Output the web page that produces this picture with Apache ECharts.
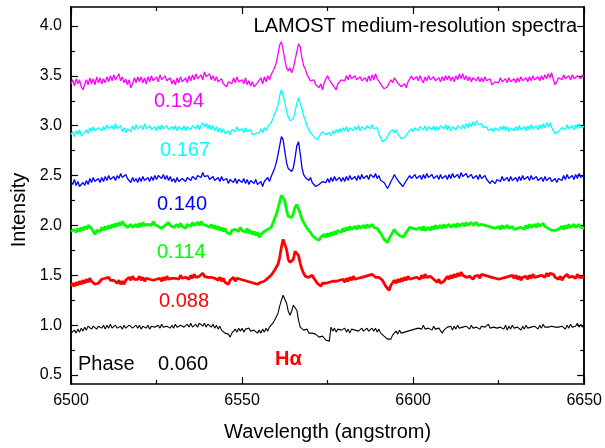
<!DOCTYPE html>
<html>
<head>
<meta charset="utf-8">
<script src="https://cdn.jsdelivr.net/npm/echarts@6/dist/echarts.min.js"></script>
<style>
  html, body { margin: 0; padding: 0; background: #fff; }
  #chart { width: 605px; height: 448px; }
</style>
</head>
<body>
<div id="chart"></div>
<script>
// wavelength grid of the spectra (angstrom)
const waveStart = 6500;
const waveStep = 0.5;

// normalised intensity + offset, one row = 10 angstrom
const phase194 = [
  3.42,3.46,3.40,3.47,3.42,3.46,3.39,3.36,3.41,3.46,3.41,3.48,3.42,3.47,3.41,3.49,3.43,3.48,3.42,3.47,
  3.43,3.49,3.44,3.50,3.45,3.51,3.46,3.44,3.52,3.45,3.49,3.43,3.47,3.41,3.46,3.38,3.42,3.48,3.43,3.49,
  3.44,3.49,3.43,3.48,3.42,3.49,3.44,3.50,3.45,3.43,3.49,3.44,3.51,3.46,3.44,3.50,3.45,3.43,3.48,3.42,
  3.46,3.41,3.48,3.43,3.49,3.44,3.42,3.48,3.43,3.50,3.45,3.51,3.46,3.52,3.47,3.45,3.51,3.46,3.54,3.49,
  3.47,3.52,3.46,3.50,3.45,3.49,3.44,3.43,3.47,3.42,3.41,3.39,3.44,3.46,3.42,3.48,3.43,3.49,3.44,3.42,
  3.46,3.42,3.48,3.41,3.45,3.40,3.44,3.39,3.38,3.43,3.45,3.48,3.42,3.49,3.44,3.50,3.46,3.51,3.53,3.58,
  3.63,3.72,3.81,3.84,3.76,3.66,3.58,3.55,3.58,3.53,3.58,3.66,3.74,3.82,3.79,3.68,3.60,3.57,3.51,3.50,
  3.45,3.43,3.46,3.41,3.40,3.38,3.42,3.36,3.43,3.47,3.50,3.46,3.45,3.41,3.39,3.36,3.42,3.44,3.46,3.48,
  3.45,3.50,3.46,3.51,3.47,3.45,3.50,3.46,3.44,3.49,3.45,3.43,3.48,3.44,3.50,3.45,3.51,3.46,3.52,3.47,
  3.47,3.42,3.41,3.37,3.36,3.39,3.43,3.46,3.43,3.48,3.46,3.43,3.42,3.39,3.37,3.42,3.38,3.44,3.46,3.50,
  3.46,3.44,3.49,3.45,3.50,3.46,3.43,3.49,3.45,3.50,3.46,3.44,3.49,3.45,3.43,3.48,3.44,3.49,3.45,3.50,
  3.46,3.50,3.45,3.49,3.44,3.50,3.46,3.52,3.47,3.52,3.46,3.50,3.45,3.49,3.44,3.48,3.50,3.45,3.49,3.44,
  3.48,3.44,3.49,3.45,3.43,3.47,3.41,3.40,3.44,3.46,3.43,3.48,3.44,3.42,3.47,3.43,3.48,3.44,3.42,3.47,
  3.43,3.48,3.44,3.49,3.45,3.43,3.48,3.44,3.49,3.45,3.50,3.46,3.44,3.49,3.45,3.50,3.46,3.51,3.47,3.52,
  3.48,3.53,3.46,3.41,3.44,3.48,3.50,3.46,3.51,3.47,3.45,3.50,3.46,3.51,3.47,3.45,3.50,3.52,3.47,3.51,
  3.49
];

const phase167 = [
  2.91,2.94,2.89,2.95,2.91,2.96,2.90,2.88,2.93,2.96,2.92,2.98,2.94,2.99,2.95,2.93,2.98,3.00,2.95,2.99,
  2.96,3.01,2.97,2.95,3.00,2.96,3.02,2.97,2.95,3.00,2.94,2.98,2.93,2.97,2.99,2.94,3.00,2.96,3.01,2.97,
  2.95,3.00,2.96,3.02,2.97,2.95,3.00,2.96,2.94,2.99,2.95,3.00,2.96,3.01,2.97,2.95,3.00,2.96,2.94,2.99,
  2.96,3.00,2.95,2.99,3.01,2.96,3.00,2.95,2.99,3.01,2.96,3.00,3.02,2.97,3.01,2.96,3.00,3.03,2.99,3.02,
  2.97,3.01,2.96,3.00,2.95,2.99,2.94,2.98,2.93,2.97,2.92,2.90,2.95,2.91,2.96,2.98,2.94,2.99,2.95,2.93,
  2.97,2.93,2.98,2.94,2.92,2.96,2.91,2.89,2.92,2.94,2.93,2.97,2.93,2.98,2.95,2.99,3.00,3.03,3.07,3.12,
  3.15,3.21,3.30,3.36,3.35,3.24,3.14,3.09,3.05,3.03,3.07,3.14,3.22,3.28,3.26,3.17,3.10,3.05,3.00,2.96,
  2.93,2.92,2.89,2.88,2.86,2.89,2.90,2.94,2.93,2.91,2.89,2.93,2.90,2.95,2.92,2.96,2.93,2.97,2.94,2.98,
  2.95,2.99,2.94,2.98,3.00,2.95,2.99,2.96,3.00,2.95,2.99,3.01,2.96,3.00,3.02,2.97,3.01,2.97,2.95,2.98,
  2.92,2.88,2.84,2.82,2.86,2.89,2.93,2.95,2.96,2.93,2.96,2.92,2.90,2.87,2.85,2.88,2.90,2.93,2.95,2.97,
  2.94,2.98,3.00,2.95,2.99,3.01,2.96,3.00,2.95,2.99,3.01,2.96,3.00,2.95,2.99,2.96,3.00,3.02,2.97,3.01,
  2.96,3.00,2.95,2.99,3.01,2.96,3.00,3.02,2.97,3.01,2.97,3.02,2.98,3.03,2.99,3.04,3.00,3.05,3.01,2.99,
  3.02,2.98,2.97,2.99,2.95,2.93,2.97,2.94,2.98,3.00,2.95,2.99,2.96,3.00,2.95,2.99,2.94,2.98,3.00,2.95,
  2.99,2.95,3.00,2.96,2.94,2.99,2.95,3.00,2.96,3.01,2.97,2.95,3.00,2.96,3.01,2.97,3.02,2.98,3.03,2.99,
  3.03,2.98,2.95,2.92,2.90,2.94,2.95,2.98,3.00,2.96,3.01,2.97,2.95,3.00,2.96,3.01,2.97,3.02,2.98,2.99,
  2.99
];

const phase140 = [
  2.44,2.41,2.46,2.40,2.44,2.39,2.38,2.43,2.40,2.45,2.41,2.47,2.43,2.48,2.44,2.42,2.47,2.43,2.48,2.44,
  2.49,2.45,2.50,2.46,2.44,2.49,2.45,2.50,2.47,2.52,2.48,2.46,2.51,2.47,2.45,2.43,2.48,2.44,2.47,2.43,
  2.48,2.44,2.49,2.45,2.43,2.48,2.44,2.49,2.45,2.50,2.46,2.50,2.52,2.47,2.51,2.46,2.50,2.45,2.49,2.44,
  2.47,2.43,2.48,2.44,2.42,2.47,2.49,2.44,2.48,2.50,2.45,2.49,2.51,2.46,2.50,2.52,2.48,2.53,2.49,2.47,
  2.50,2.46,2.44,2.49,2.45,2.43,2.48,2.44,2.49,2.45,2.43,2.47,2.42,2.46,2.48,2.43,2.47,2.42,2.46,2.48,
  2.43,2.47,2.42,2.46,2.41,2.45,2.47,2.42,2.46,2.41,2.40,2.44,2.39,2.44,2.46,2.48,2.44,2.49,2.51,2.57,
  2.63,2.71,2.80,2.89,2.86,2.74,2.63,2.57,2.56,2.54,2.58,2.68,2.80,2.84,2.72,2.58,2.51,2.48,2.47,2.45,
  2.48,2.43,2.42,2.39,2.39,2.41,2.40,2.44,2.46,2.43,2.47,2.43,2.48,2.44,2.49,2.45,2.43,2.48,2.44,2.48,
  2.44,2.49,2.45,2.50,2.46,2.44,2.49,2.45,2.50,2.46,2.51,2.47,2.45,2.50,2.46,2.51,2.53,2.48,2.52,2.47,
  2.50,2.45,2.47,2.43,2.41,2.37,2.40,2.44,2.47,2.51,2.48,2.46,2.43,2.42,2.39,2.41,2.45,2.47,2.50,2.47,
  2.46,2.51,2.47,2.45,2.50,2.46,2.51,2.47,2.52,2.48,2.46,2.51,2.47,2.45,2.50,2.46,2.51,2.47,2.45,2.50,
  2.46,2.51,2.47,2.52,2.48,2.46,2.51,2.47,2.53,2.49,2.47,2.52,2.48,2.46,2.51,2.47,2.45,2.50,2.46,2.51,
  2.47,2.45,2.50,2.46,2.44,2.42,2.45,2.46,2.42,2.46,2.48,2.44,2.49,2.45,2.43,2.48,2.44,2.49,2.45,2.43,
  2.48,2.44,2.49,2.45,2.50,2.46,2.44,2.49,2.45,2.50,2.46,2.44,2.49,2.45,2.43,2.48,2.44,2.49,2.45,2.46,
  2.48,2.44,2.42,2.47,2.43,2.47,2.49,2.45,2.50,2.46,2.51,2.47,2.45,2.50,2.46,2.51,2.47,2.52,2.48,2.49,
  2.50
];

const phase114 = [
  1.94,1.92,1.96,1.93,1.97,1.94,1.98,1.95,1.99,1.96,2.00,2.01,1.97,1.94,1.91,1.95,1.97,1.94,1.98,1.95,
  1.99,1.96,2.00,1.97,2.01,1.98,2.02,1.99,2.03,2.00,2.04,2.01,2.00,1.98,1.97,2.01,1.98,1.97,2.01,1.98,
  2.02,1.99,2.03,2.00,1.98,2.01,2.03,2.00,2.04,2.01,2.02,1.99,2.00,1.97,1.96,2.00,2.02,2.03,2.00,2.01,
  1.98,1.99,2.01,1.98,2.02,1.99,2.00,1.97,2.01,2.02,1.99,2.03,2.00,2.01,2.03,2.00,2.04,2.01,2.03,2.00,
  2.01,1.98,2.01,1.97,2.00,1.96,1.99,1.95,1.98,1.94,1.97,1.93,1.94,1.91,1.95,1.97,1.96,1.97,1.94,1.98,
  1.95,1.96,1.93,1.97,1.92,1.95,1.91,1.94,1.90,1.93,1.88,1.91,1.91,1.94,1.93,1.96,1.95,1.98,2.02,2.07,
  2.11,2.17,2.24,2.30,2.32,2.25,2.15,2.09,2.07,2.08,2.12,2.18,2.21,2.19,2.12,2.06,2.03,2.00,1.97,1.95,
  1.93,1.90,1.89,1.87,1.86,1.85,1.88,1.87,1.91,1.88,1.92,1.89,1.93,1.90,1.94,1.91,1.95,1.94,1.93,1.97,
  1.94,1.98,1.95,1.99,1.96,1.97,1.99,1.96,2.00,1.97,1.98,2.00,1.97,2.01,1.98,1.99,2.01,1.98,2.00,1.97,
  1.96,1.92,1.90,1.86,1.85,1.83,1.87,1.89,1.93,1.96,1.93,1.94,1.90,1.91,1.88,1.90,1.93,1.94,1.98,1.99,
  1.97,1.97,1.96,1.96,1.98,1.95,1.99,1.95,1.96,1.98,1.95,1.99,1.96,2.00,1.97,1.98,2.00,1.97,2.01,1.98,
  1.99,2.01,1.98,1.99,2.01,1.98,2.02,1.99,2.00,2.02,1.99,2.03,2.00,2.01,2.03,2.00,2.01,2.03,2.00,2.02,
  2.01,2.00,2.00,1.99,1.99,1.98,1.98,1.97,1.97,1.96,1.99,1.96,2.00,1.97,1.98,2.00,1.97,1.97,1.99,1.96,
  1.97,1.97,1.98,1.98,1.99,1.96,2.00,1.97,2.01,1.98,1.99,2.01,1.98,2.02,1.99,2.00,2.02,1.99,2.00,1.97,
  1.98,1.95,1.96,1.95,1.93,1.96,1.95,1.99,1.96,2.00,1.97,2.01,1.98,1.99,2.01,1.98,1.99,2.01,1.98,1.99,
  1.97
];

const phase088 = [
  1.39,1.42,1.39,1.43,1.40,1.44,1.41,1.45,1.42,1.46,1.43,1.47,1.44,1.44,1.41,1.40,1.42,1.42,1.46,1.47,
  1.47,1.47,1.48,1.45,1.46,1.45,1.45,1.42,1.45,1.41,1.44,1.41,1.45,1.44,1.48,1.45,1.49,1.46,1.47,1.46,
  1.49,1.45,1.48,1.44,1.47,1.46,1.46,1.45,1.45,1.45,1.46,1.46,1.47,1.44,1.48,1.45,1.49,1.46,1.47,1.47,
  1.48,1.47,1.47,1.46,1.50,1.47,1.48,1.48,1.49,1.46,1.50,1.47,1.51,1.48,1.49,1.49,1.50,1.52,1.49,1.50,
  1.48,1.49,1.48,1.48,1.47,1.48,1.45,1.48,1.44,1.47,1.43,1.44,1.41,1.45,1.45,1.48,1.44,1.47,1.46,1.46,
  1.45,1.45,1.44,1.44,1.43,1.43,1.42,1.42,1.41,1.41,1.40,1.43,1.43,1.44,1.44,1.47,1.46,1.50,1.52,1.55,
  1.57,1.61,1.68,1.78,1.86,1.87,1.76,1.66,1.63,1.62,1.66,1.74,1.76,1.70,1.62,1.56,1.52,1.49,1.47,1.48,
  1.49,1.50,1.47,1.46,1.42,1.42,1.39,1.42,1.41,1.42,1.42,1.43,1.43,1.44,1.43,1.44,1.44,1.45,1.45,1.46,
  1.43,1.47,1.44,1.48,1.45,1.49,1.46,1.47,1.47,1.48,1.48,1.49,1.49,1.50,1.50,1.51,1.51,1.52,1.48,1.49,
  1.48,1.48,1.45,1.44,1.39,1.38,1.35,1.40,1.41,1.45,1.42,1.46,1.43,1.47,1.44,1.48,1.45,1.49,1.46,1.47,
  1.47,1.48,1.48,1.49,1.46,1.50,1.47,1.51,1.48,1.49,1.49,1.50,1.46,1.47,1.43,1.46,1.42,1.40,1.44,1.45,
  1.49,1.46,1.50,1.47,1.51,1.48,1.52,1.49,1.53,1.50,1.51,1.48,1.49,1.49,1.50,1.46,1.49,1.49,1.50,1.47,
  1.51,1.50,1.50,1.49,1.49,1.48,1.48,1.47,1.47,1.46,1.46,1.46,1.47,1.47,1.48,1.48,1.49,1.49,1.50,1.47,
  1.50,1.46,1.49,1.45,1.48,1.48,1.49,1.46,1.50,1.47,1.51,1.48,1.49,1.49,1.50,1.50,1.51,1.48,1.52,1.49,
  1.52,1.51,1.51,1.48,1.49,1.46,1.49,1.45,1.48,1.47,1.51,1.48,1.49,1.49,1.50,1.47,1.51,1.48,1.49,1.48,
  1.49
];

const phase060 = [
  0.92,0.90,0.95,0.92,0.96,0.93,0.97,0.94,0.98,0.95,0.99,1.00,0.96,0.99,1.00,0.96,0.99,1.01,0.97,1.00,
  0.96,1.00,0.97,1.01,0.97,0.96,1.00,0.97,0.95,0.99,0.96,1.00,0.97,0.96,1.00,1.01,0.97,0.96,1.00,0.97,
  1.00,0.96,0.99,1.01,0.97,1.00,0.96,0.99,1.01,0.98,0.96,1.00,0.97,1.01,0.98,0.96,0.99,1.01,0.97,1.00,
  0.97,1.01,0.98,0.96,1.00,1.02,0.98,0.97,1.01,0.98,1.02,0.98,0.97,1.01,0.98,1.02,1.03,0.99,1.02,0.98,
  1.01,1.00,0.98,1.01,0.97,1.00,0.96,0.99,0.95,0.95,0.92,0.92,0.91,0.88,0.92,0.92,0.96,0.93,0.97,0.94,
  0.97,0.93,0.96,0.96,0.97,0.94,0.95,0.95,0.96,0.92,0.95,0.92,0.96,0.93,0.97,0.94,0.98,0.99,1.02,1.05,
  1.07,1.12,1.19,1.25,1.30,1.31,1.22,1.14,1.10,1.14,1.20,1.21,1.15,1.05,0.98,0.96,0.95,0.93,0.96,0.92,
  0.93,0.92,0.92,0.91,0.91,0.88,0.89,0.89,0.88,0.85,0.85,0.84,0.98,0.94,0.97,0.93,0.96,0.95,0.95,0.94,
  0.97,0.93,0.96,0.92,0.96,0.95,0.95,0.94,0.94,0.93,0.97,0.94,0.95,0.97,0.94,0.95,0.97,0.94,0.97,0.93,
  0.96,0.92,0.93,0.89,0.89,0.86,0.87,0.86,0.90,0.90,0.94,0.91,0.95,0.92,0.93,0.93,0.94,0.94,0.95,0.95,
  0.96,0.96,0.97,0.97,0.97,0.96,1.00,0.96,0.97,0.97,0.98,0.95,0.99,0.96,0.96,0.97,0.97,0.92,0.95,0.94,
  0.98,0.98,0.99,0.95,0.99,0.96,1.00,0.97,0.98,0.98,0.99,0.99,0.99,0.96,1.00,0.97,0.97,0.98,0.99,0.96,
  0.99,0.98,0.98,0.97,1.01,0.97,0.98,0.98,0.97,0.97,0.98,0.98,0.99,0.96,1.00,0.95,0.99,0.96,1.00,0.97,
  0.98,0.98,0.99,0.95,0.99,0.96,1.00,0.97,0.98,0.98,0.99,0.99,0.99,0.96,1.00,0.97,1.01,0.98,0.98,0.98,
  0.99,0.99,0.99,0.98,0.98,0.98,0.99,0.99,1.00,0.96,1.00,0.97,1.01,0.98,0.99,0.99,1.02,0.98,1.01,0.98,
  1.00
];

const phaseLabels = ['0.060', '0.088', '0.114', '0.140', '0.167', '0.194'];
const spectra = [phase060, phase088, phase114, phase140, phase167, phase194];
const colors = ['#000000', '#ff0000', '#00ff00', '#0000ff', '#00ffff', '#ff00ff'];
const widths = [1.1, 2.8, 2.8, 1.3, 1.3, 1.3];

const yMajor = [0.5, 1.0, 1.5, 2.0, 2.5, 3.0, 3.5, 4.0];
const yMinor = [0.75, 1.25, 1.75, 2.25, 2.75, 3.25, 3.75];

const FONT = 'Liberation Sans, Arial, sans-serif';

const chart = echarts.init(document.getElementById('chart'), null, { renderer: 'canvas' });

const frameLine = { show: true, lineStyle: { color: '#000', width: 1.5 } };

function xAx(pos, withLabels) {
  return {
    type: 'value', position: pos, min: 6500, max: 6650, interval: 50,
    axisLine: frameLine,
    axisTick: { show: true, inside: true, length: 7, lineStyle: { color: '#000', width: 1.2 } },
    minorTick: { show: true, splitNumber: 2, length: 4, lineStyle: { color: '#000', width: 1.2 } },
    axisLabel: { show: withLabels, fontSize: 16, color: '#000', fontFamily: FONT, margin: 9,
      formatter: v => String(v) },
    splitLine: { show: false },
    name: withLabels ? 'Wavelength (angstrom)' : '',
    nameLocation: 'middle', nameGap: 38,
    nameTextStyle: { fontSize: 20, color: '#000', fontFamily: FONT }
  };
}

function yAx(pos, ticks, len, withLabels) {
  return {
    type: 'value', position: pos, min: 0.41, max: 4.19,
    axisLine: frameLine,
    axisTick: { show: true, inside: true, length: len, customValues: ticks,
      lineStyle: { color: '#000', width: 1.2 } },
    axisLabel: { show: withLabels, customValues: yMajor, fontSize: 16, color: '#000',
      fontFamily: FONT, margin: 9, formatter: v => v.toFixed(1) },
    splitLine: { show: false }
  };
}

const series = spectra.map((vals, k) => ({
  name: phaseLabels[k],
  type: 'line',
  xAxisIndex: 0, yAxisIndex: 0,
  showSymbol: false, symbol: 'none',
  lineStyle: { color: colors[k], width: widths[k] },
  data: vals.map((v, i) => [waveStart + i * waveStep, v]),
  z: 10 - k
}));

function txt(x, y, text, color, extra) {
  return {
    type: 'text', x: x, y: y, silent: true,
    style: Object.assign({ text: text, fill: color, fontSize: 20, fontFamily: FONT,
      textAlign: 'left', textVerticalAlign: 'middle' }, extra || {})
  };
}

chart.setOption({
  animation: false,
  backgroundColor: '#fff',
  grid: { left: 71, right: 18, top: 7, bottom: 64 },
  xAxis: [xAx('bottom', true), xAx('top', false)],
  yAxis: [
    yAx('left', yMajor, 7, true),
    yAx('left', yMinor, 4, false),
    yAx('right', yMajor, 7, false),
    yAx('right', yMinor, 4, false)
  ],
  series: series,
  graphic: [
    txt(577, 26, 'LAMOST medium-resolution spectra', '#000', { textAlign: 'right' }),
    txt(154, 101, phaseLabels[5], colors[5]),
    txt(160, 150, phaseLabels[4], colors[4]),
    txt(157, 204, phaseLabels[3], colors[3]),
    txt(157, 252, phaseLabels[2], colors[2]),
    txt(159, 301, phaseLabels[1], colors[1]),
    txt(78, 364, 'Phase', '#000'),
    txt(158, 364, phaseLabels[0], '#000'),
    txt(275, 359, 'Hα', '#ff0000', { fontWeight: 'bold' }),
    {
      type: 'text', x: 19, y: 210, rotation: Math.PI / 2, silent: true,
      style: { text: 'Intensity', fill: '#000', fontSize: 20, fontFamily: FONT,
        textAlign: 'center', textVerticalAlign: 'middle' }
    }
  ]
});
</script>
</body>
</html>
